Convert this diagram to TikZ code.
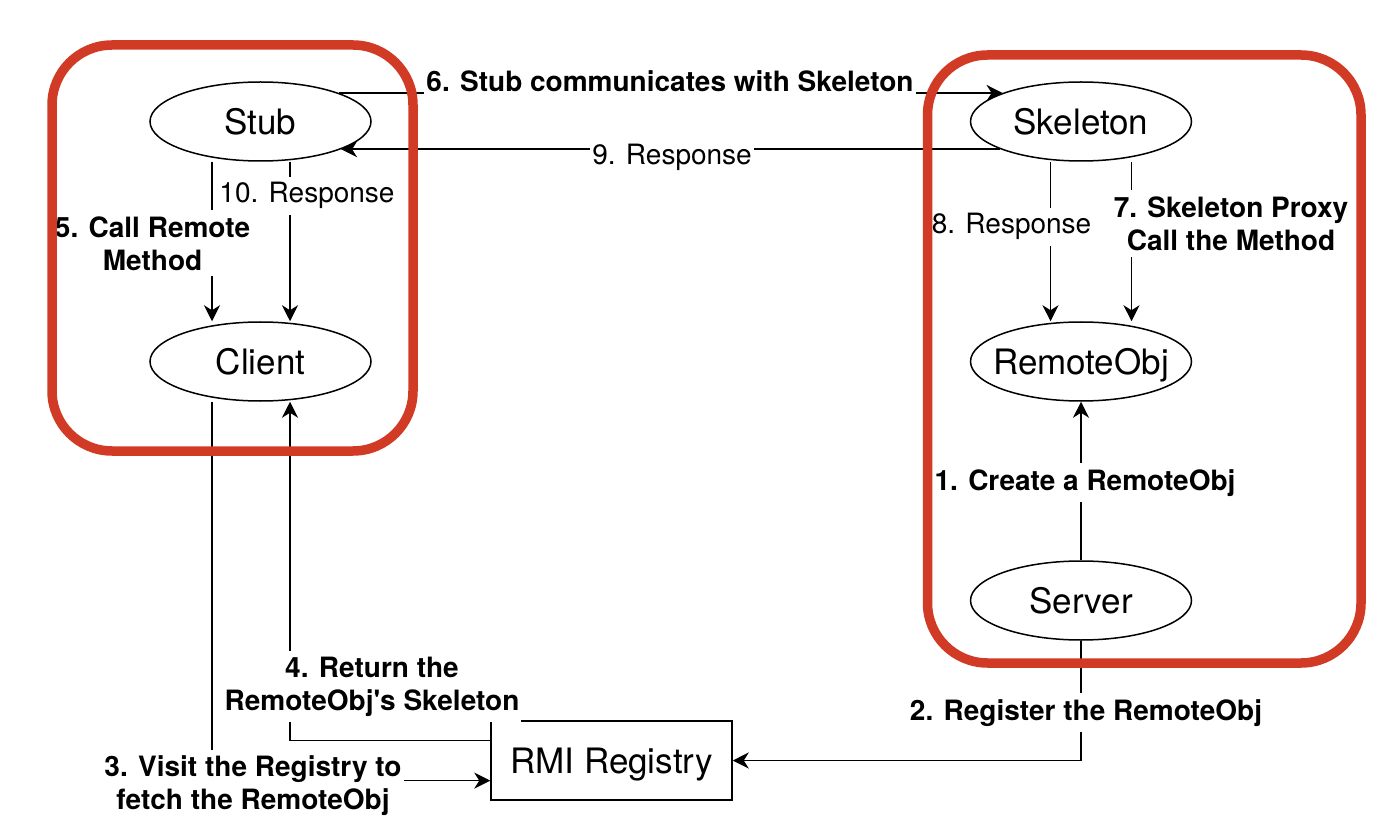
\documentclass[tikz,border=0pt]{standalone}
\usepackage{fontspec}
\setmainfont{TeX Gyre Heros}[Ligatures=TeXOff]
\usepackage{tikz}
\usetikzlibrary{arrows.meta,shapes,calc}
\definecolor{boxred}{RGB}{209,58,36}

\begin{document}
\begin{tikzpicture}[x=0.5pt,y=-0.5pt,
    obj/.style={draw,ellipse,line width=0.75pt,minimum width=110.5pt,minimum height=39.5pt,inner sep=0pt,text depth=0pt,font=\fontsize{17.5}{20}\selectfont},
    reg/.style={draw,rectangle,line width=0.75pt,minimum width=120.5pt,minimum height=39.5pt,inner sep=0pt,text depth=0pt,font=\fontsize{17.5}{20}\selectfont},
    lbl/.style={fill=white,inner xsep=1pt,inner ysep=3pt,align=center,font=\fontsize{14}{16.5}\selectfont},
    blbl/.style={lbl,font=\fontsize{14}{16.5}\selectfont\bfseries},
    conn/.style={line width=0.75pt,-{Stealth[length=8pt,width=8pt,inset=2.5pt]}},
    area/.style={draw=boxred,line width=4.75pt,rounded corners=30pt}]
  \useasboundingbox (0,0) rectangle (1396,828);

  % objects
  \node[obj] (stub) at (260.5,121.5) {Stub};
  \node[obj] (client) at (260.5,361.5) {Client};
  \node[obj] (skel) at (1081,121.5) {Skeleton};
  \node[obj] (remote) at (1081,361.5) {\makebox[0pt]{RemoteObj}};
  \node[obj] (server) at (1081,600.5) {Server};
  \node[reg] (rmi) at (611.5,760.5) {RMI Registry};

  \coordinate (colA) at (212,0);
  \coordinate (colB) at (290,0);
  \coordinate (colC) at (1050.5,0);
  \coordinate (colD) at (1131.5,0);

  % calls
  \draw[conn] (stub.20) -- (skel.160);
  \draw[conn] (skel.199) -- (stub.-19);
  \draw[conn] (stub.south -| colA) -- (client.north -| colA);
  \draw[conn] (stub.south -| colB) -- (client.north -| colB);
  \draw[conn] (skel.south -| colC) -- (remote.north -| colC);
  \draw[conn] (skel.south -| colD) -- (remote.north -| colD);
  \draw[conn] (server) -- (remote);
  \draw[conn] (server.south) |- (rmi.east);
  \draw[conn] (client.south -| colA) |- ($(rmi.west)!.5!(rmi.south west)$);
  \draw[conn] ($(rmi.west)!.5!(rmi.north west)$) -| (client.south -| colB);

  % labels
  \node[blbl,anchor=base] (l6) at (670,92) {6. Stub communicates with Skeleton};
  \node[lbl,anchor=base] (l9) at (672,165) {9. Response};
  \node[lbl,anchor=base] (l10) at (307,203) {10. Response};
  \node[blbl] (l5) at (152.5,243.5) {5. Call Remote\\Method};
  \node[lbl,anchor=base] (l8) at (1011.5,234) {8. Response};
  \node[blbl] (l7) at (1231,223.5) {7. Skeleton Proxy\\Call the Method};
  \node[blbl,anchor=base] (l1) at (1085,490) {1. Create a RemoteObj};
  \node[blbl,anchor=base] (l2) at (1086,720) {2. Register the RemoteObj};
  \node[blbl] (l4) at (372,686.5) {4. Return the\\RemoteObj's Skeleton};
  \node[blbl] (l3) at (253,786) {3. Visit the Registry to\\fetch the RemoteObj};

  % client and server sides
  \draw[area] (52,45) rectangle (413,451);
  \draw[area] (927.5,55) rectangle (1361,663);
\end{tikzpicture}
\end{document}
